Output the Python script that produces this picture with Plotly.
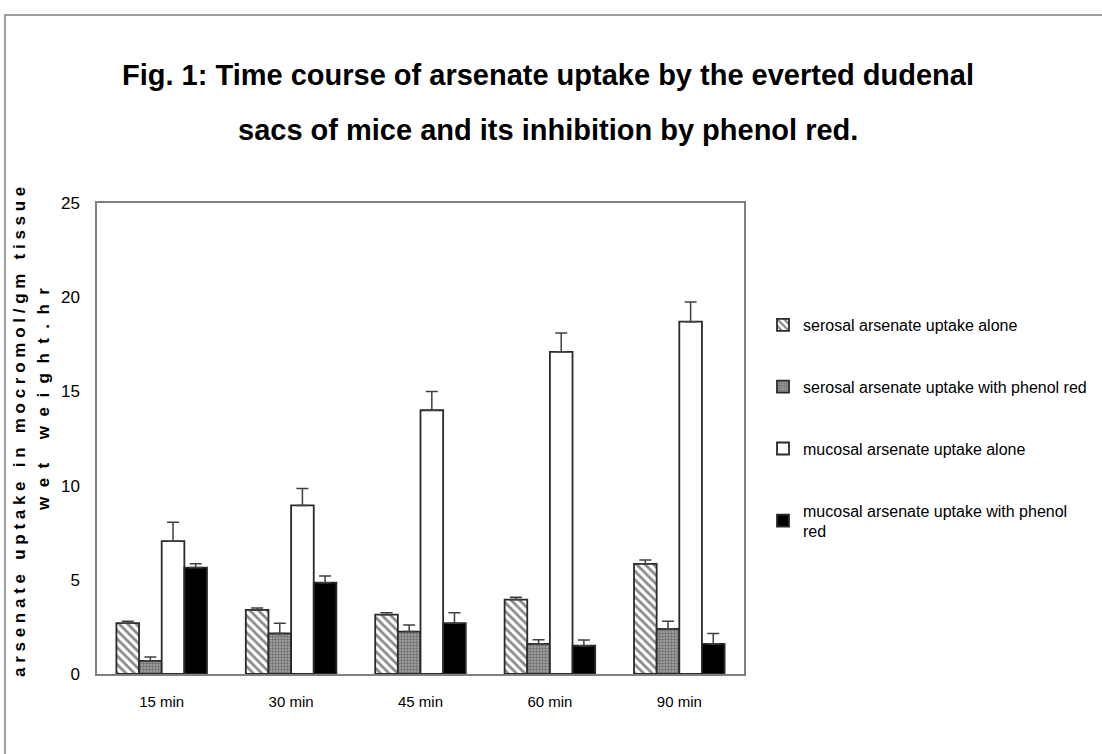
import plotly.graph_objects as go

categories = ["15 min", "30 min", "45 min", "60 min", "90 min"]
serosal_alone = [2.7, 3.4, 3.15, 3.95, 5.85]
serosal_alone_err = [0.1, 0.1, 0.1, 0.12, 0.2]
serosal_phenol = [0.7, 2.15, 2.25, 1.6, 2.4]
serosal_phenol_err = [0.2, 0.55, 0.35, 0.22, 0.4]
mucosal_alone = [7.05, 8.95, 14.0, 17.1, 18.7]
mucosal_alone_err = [1.0, 0.9, 1.0, 1.0, 1.05]
mucosal_phenol = [5.65, 4.85, 2.7, 1.5, 1.6]
mucosal_phenol_err = [0.2, 0.35, 0.55, 0.3, 0.55]

names = [
    "serosal arsenate uptake alone",
    "serosal arsenate uptake with phenol red",
    "mucosal arsenate uptake alone",
    "mucosal arsenate uptake with phenol<br>red",
]

FONT = "Liberation Sans, Arial, sans-serif"
W, H = 1102, 754
# plot area in page pixels
L, R, T, B = 97, 744, 203, 674

def px(x):
    return (x - L) / (R - L)

def py(y):
    return (B - y) / (B - T)

def err(vals):
    return dict(type="data", array=vals, arrayminus=[0] * len(vals), symmetric=False,
                color="#404040", thickness=1.5, width=6)

line = dict(color="#2a2a2a", width=1.8)
fig = go.Figure()
fig.add_trace(go.Bar(x=categories, y=serosal_alone, name=names[0], legendgroup="a",
                     error_y=err(serosal_alone_err),
                     marker=dict(color="white", line=line,
                                 pattern=dict(shape="\\", fgcolor="#111111", bgcolor="white",
                                              size=6, solidity=0.45))))
fig.add_trace(go.Bar(x=categories, y=serosal_phenol, name=names[1], legendgroup="b",
                     error_y=err(serosal_phenol_err),
                     marker=dict(color="#999999", line=line,
                                 pattern=dict(shape=".", fgcolor="#333333", bgcolor="#a8a8a8",
                                              size=3, solidity=0.5))))
fig.add_trace(go.Bar(x=categories, y=mucosal_alone, name=names[2], legendgroup="c",
                     error_y=err(mucosal_alone_err),
                     marker=dict(color="white", line=line)))
fig.add_trace(go.Bar(x=categories, y=mucosal_phenol, name=names[3], legendgroup="d",
                     error_y=err(mucosal_phenol_err),
                     marker=dict(color="black", line=line)))

fig.update_layout(
    width=W, height=H,
    margin=dict(l=L, r=W - R, t=T, b=H - B, autoexpand=False),
    paper_bgcolor="white", plot_bgcolor="white",
    barmode="group", bargap=0.3, bargroupgap=0,
    font=dict(family=FONT, color="black"),
    showlegend=True,
    legend=dict(x=px(763), y=py(308), xanchor="left", yanchor="top",
                font=dict(family=FONT, size=16, color="black"),
                tracegroupgap=38, itemwidth=30, bgcolor="rgba(0,0,0,0)"),
    xaxis=dict(showgrid=False, showline=True, linecolor="#808080", linewidth=1.5,
               mirror=True, ticks="", tickfont=dict(family=FONT, size=15),
               ticklabelstandoff=13),
    yaxis=dict(range=[0, 25], dtick=5, showgrid=False, showline=True, linecolor="#808080",
               linewidth=1.5, mirror=True, ticks="", zeroline=False,
               tickfont=dict(family=FONT, size=17), ticklabelstandoff=12),
)

fig.add_shape(type="rect", xref="paper", yref="paper",
              x0=px(5), x1=px(1140), y0=py(790), y1=py(15),
              line=dict(color="#808080", width=1.5), fillcolor="rgba(0,0,0,0)", layer="below")

fig.add_annotation(xref="paper", yref="paper", x=px(548), y=py(75), showarrow=False,
                   text="<b>Fig. 1: Time course of arsenate uptake by the everted dudenal</b>",
                   font=dict(family=FONT, size=29, color="black"), xanchor="center", yanchor="middle")
fig.add_annotation(xref="paper", yref="paper", x=px(548), y=py(130), showarrow=False,
                   text="<b>sacs of mice and its inhibition by phenol red.</b>",
                   font=dict(family=FONT, size=29, color="black"), xanchor="center", yanchor="middle")

NB = "\u00a0"
def spaced(text, letter_gap, word_gap):
    return (NB * word_gap).join((NB * letter_gap).join(list(w)) for w in text.split(" "))

ylab1 = spaced("arsenate uptake in mocromol/gm tissue", 1, 3)
ylab2 = spaced("wet weight.hr", 2, 5)
fig.add_annotation(xref="paper", yref="paper", x=px(19), y=py(432), showarrow=False,
                   text="<b>" + ylab1 + "</b>", textangle=-90,
                   font=dict(family=FONT, size=17, color="black"),
                   xanchor="center", yanchor="middle")
fig.add_annotation(xref="paper", yref="paper", x=px(43), y=py(400), showarrow=False,
                   text="<b>" + ylab2 + "</b>", textangle=-90,
                   font=dict(family=FONT, size=17, color="black"),
                   xanchor="center", yanchor="middle")

fig.write_html("out.html", config={"displayModeBar": False},
               post_script="document.body.style.margin='0';document.body.style.overflow='hidden';")
